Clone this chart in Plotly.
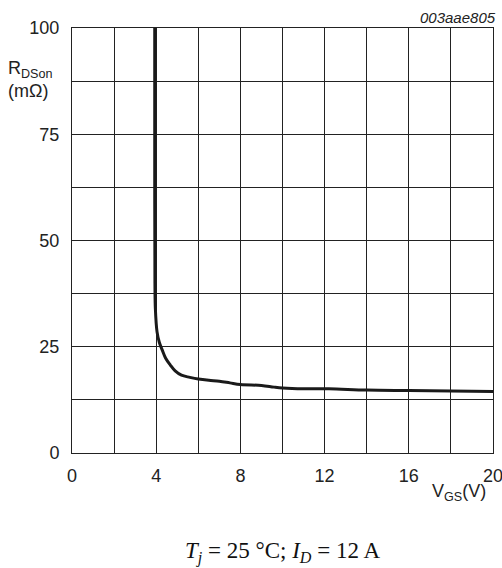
import plotly.graph_objects as go

# Data (V_GS in volts, R_DSon in milliohms)
vgs = [3.93, 3.93, 3.94, 3.96, 4.04, 4.15, 4.29, 4.45, 4.67, 4.9, 5.2, 5.6, 6.0, 6.5,
       7.0, 7.5, 8.0, 9.0, 9.6, 10.0, 11.0, 12.2, 14.0, 16.0, 18.0, 20.0]
rds = [100, 60, 40, 34, 28.5, 26, 24.2, 22.3, 20.7, 19.3, 18.3, 17.8, 17.4, 17.1,
       16.9, 16.5, 16.1, 15.9, 15.5, 15.3, 15.1, 15.1, 14.8, 14.7, 14.6, 14.5]

x_ticks = [0, 4, 8, 12, 16, 20]
y_ticks = [0, 25, 50, 75, 100]

fig = go.Figure()
fig.add_trace(go.Scatter(x=vgs, y=rds, mode="lines",
                         line=dict(color="#1a1a1a", width=3),
                         line_shape="spline", showlegend=False))

axis_font = dict(family="Liberation Sans, Arial", size=18, color="#222")
grid_c = "#222"
fig.update_xaxes(range=[0, 20], tickvals=x_ticks, ticktext=[str(v) for v in x_ticks],
                 showgrid=True, gridcolor=grid_c, gridwidth=1,
                 minor=dict(dtick=2, showgrid=True, gridcolor=grid_c, gridwidth=1, ticks=""),
                 showline=True, linecolor=grid_c, linewidth=1, mirror=True,
                 ticks="", tickfont=axis_font, zeroline=False, ticklabelstandoff=6,
                 ticklabeloverflow="allow", automargin=False)
fig.update_yaxes(range=[0, 100], tickvals=y_ticks, ticktext=[str(v) for v in y_ticks],
                 showgrid=True, gridcolor=grid_c, gridwidth=1,
                 minor=dict(dtick=12.5, showgrid=True, gridcolor=grid_c, gridwidth=1, ticks=""),
                 showline=True, linecolor=grid_c, linewidth=1, mirror=True,
                 ticks="", tickfont=axis_font, zeroline=False, ticklabelstandoff=8,
                 ticklabeloverflow="allow", automargin=False)

fig.add_annotation(xref="paper", yref="paper", x=-0.157, y=0.878,
                   xanchor="left", yanchor="middle", align="left", showarrow=False,
                   text="R<sub>DSon</sub><br>(mΩ)", font=axis_font)
fig.add_annotation(xref="paper", yref="paper", x=0.988, y=-0.094,
                   xanchor="right", yanchor="middle", showarrow=False,
                   text="V<sub>GS</sub>(V)", font=axis_font)
fig.add_annotation(xref="paper", yref="paper", x=1.012, y=1.024,
                   xanchor="right", yanchor="middle", showarrow=False,
                   text="<i>003aae805</i>",
                   font=dict(family="Liberation Sans, Arial", size=15, color="#222"))
fig.add_annotation(xref="paper", yref="paper", x=0.5, y=-0.233,
                   xanchor="center", yanchor="middle", showarrow=False,
                   text="<i>T</i><sub><i>j</i></sub> = 25 °C; <i>I</i><sub><i>D</i></sub> = 12 A",
                   font=dict(family="Liberation Serif, Times New Roman", size=23, color="#111"))

fig.update_layout(width=502, height=568, plot_bgcolor="white", paper_bgcolor="white",
                  margin=dict(l=72, r=9, t=28, b=115, autoexpand=False))
# remove the page's default body margin so the figure fills the 502x568 window exactly
fig.write_html("out.html", config={"displayModeBar": False},
               post_script="document.body.style.margin='0';document.body.style.overflow='hidden';")
